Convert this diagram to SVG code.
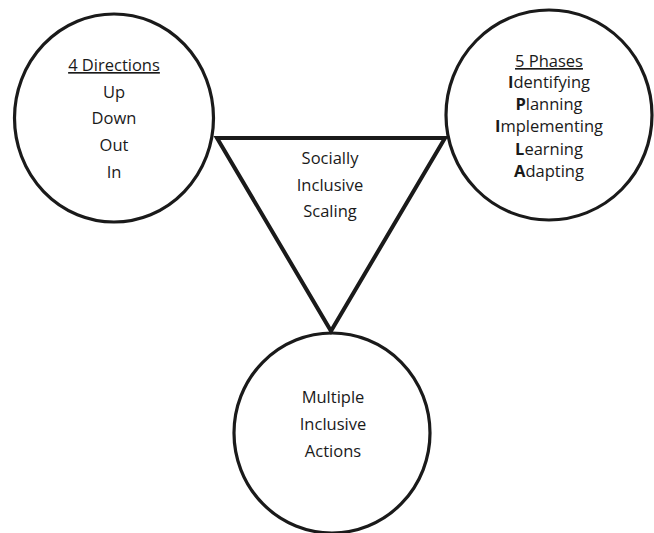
<svg xmlns="http://www.w3.org/2000/svg" width="654" height="533" viewBox="0 0 654 533">
<style>
.shape{fill:none;stroke:#1a1a1a;stroke-width:3.2}
.tri{fill:none;stroke:#1a1a1a;stroke-width:4;stroke-linejoin:miter}
text{font-family:"Open Sans","Liberation Sans",sans-serif;font-size:16.5px;fill:#1a1a1a;text-anchor:middle}
.b{font-weight:bold}
.u{text-decoration:underline}
</style>
<rect width="654" height="533" fill="#fff"/>
<g id="connectors">
</g>
<g id="directions">
<ellipse class="shape" cx="114" cy="118" rx="99.5" ry="104"/>
<text x="114" y="71" class="u">4 Directions</text>
<text x="114" y="98">Up</text>
<text x="114" y="124">Down</text>
<text x="114" y="151">Out</text>
<text x="114" y="178">In</text>
</g>
<g id="phases">
<ellipse class="shape" cx="549" cy="115" rx="103" ry="105"/>
<text x="549" y="67" class="u">5 Phases</text>
<text x="549" y="88"><tspan class="b">I</tspan>dentifying</text>
<text x="549" y="110"><tspan class="b">P</tspan>lanning</text>
<text x="549" y="132"><tspan class="b">I</tspan>mplementing</text>
<text x="549" y="155"><tspan class="b">L</tspan>earning</text>
<text x="549" y="177"><tspan class="b">A</tspan>dapting</text>
</g>
<g id="scaling">
<polygon class="tri" points="217,138 445,138 331,331"/>
<text x="330" y="164">Socially</text>
<text x="330" y="191">Inclusive</text>
<text x="330" y="217">Scaling</text>
</g>
<g id="actions">
<ellipse class="shape" cx="332" cy="433" rx="98" ry="100"/>
<text x="333" y="403">Multiple</text>
<text x="333" y="430">Inclusive</text>
<text x="333" y="457">Actions</text>
</g>
</svg>
